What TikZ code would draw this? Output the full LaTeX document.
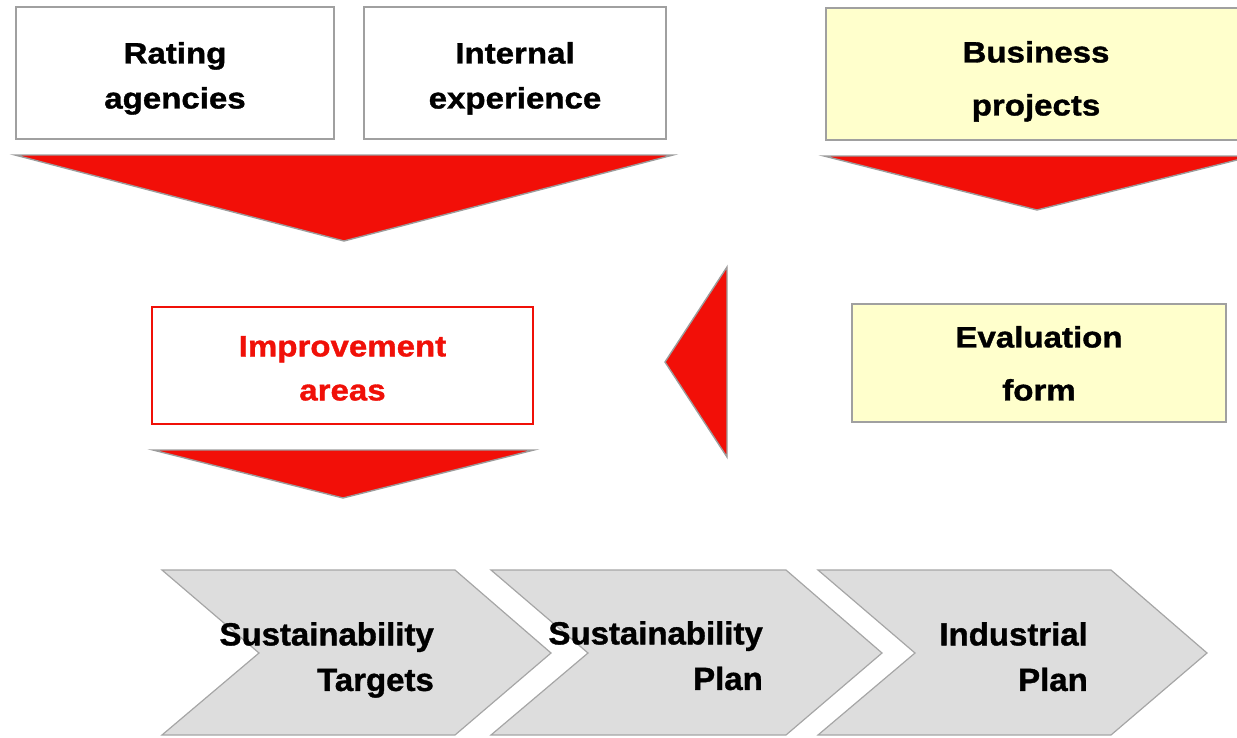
\documentclass[tikz,border=0pt]{standalone}
\usepackage{fontspec}
\setmainfont{Liberation Sans}
\newfontfamily\boxfont{Liberation Sans}[FakeStretch=1.12, BoldFeatures={FakeBold=1.2}]
\newfontfamily\chevfont{Liberation Sans}[FakeStretch=1.03, BoldFeatures={FakeBold=1.2}]
\definecolor{arrred}{HTML}{F20F08}
\definecolor{edgegrey}{HTML}{9C9C9C}
\definecolor{boxgrey}{HTML}{A0A0A0}
\definecolor{yellowfill}{HTML}{FFFFCC}
\definecolor{chevfill}{HTML}{DDDDDD}
\definecolor{chevedge}{HTML}{A6A6A6}
\definecolor{impred}{HTML}{F01008}
\begin{document}
\begin{tikzpicture}[x=1pt,y=-1pt,
  box/.style={draw=boxgrey, line width=1.3pt, rectangle, inner sep=0pt},
  boxtext/.style={inner sep=0pt, align=center, anchor=north, font=\boxfont\bfseries\fontsize{29.5}{#1}\selectfont},
  boxtext/.default=45,
  arrowshape/.style={fill=arrred, draw=edgegrey, line width=1.4pt, line join=miter},
  chev/.style={fill=chevfill, draw=chevedge, line width=1.2pt, line join=miter},
  chevtext/.style={inner sep=0pt, align=right, anchor=north east, font=\chevfont\bfseries\fontsize{32}{45.5}\selectfont}]
\useasboundingbox (0,0) rectangle (1237,737);

% top boxes
\node[box, minimum width=318pt, minimum height=132pt] (rating) at (175,73) {};
\node[boxtext] (ratingtxt) at (175,41.9) {Rating\\agencies};
\node[box, minimum width=302pt, minimum height=132pt] (internal) at (515,73) {};
\node[boxtext] (internaltxt) at (515,41.9) {Internal\\experience};
\node[box, fill=yellowfill, minimum width=420pt, minimum height=132pt] (business) at (1036,74) {};
\node[boxtext=53] (businesstxt) at (1036,40.9) {Business\\projects};

% arrows
\draw[arrowshape] (15,155) -- (673,155) -- (344,241) -- cycle;
\draw[arrowshape] (824,156) -- (1253,156) -- (1037,210) -- cycle;
\draw[arrowshape] (727,267) -- (727,457) -- (665,362) -- cycle;
\draw[arrowshape] (153,450) -- (534,450) -- (343,498) -- cycle;

% middle boxes
\node[box, draw=impred, minimum width=381pt, minimum height=117pt] (improve) at (342.5,365.5) {};
\node[boxtext=44, text=impred] (improvetxt) at (342.5,335.9) {Improvement\\areas};
\node[box, fill=yellowfill, minimum width=374pt, minimum height=118pt] (evalform) at (1039,363) {};
\node[boxtext=53] (evaltxt) at (1039,325.9) {Evaluation\\form};

% chevrons
\draw[chev] (162,570) -- (455,570) -- (551,653) -- (455,735) -- (162,735) -- (259,653) -- cycle;
\draw[chev] (491,570) -- (786,570) -- (882,653) -- (786,735) -- (491,735) -- (588,653) -- cycle;
\draw[chev] (818,570) -- (1111,570) -- (1207,653) -- (1111,735) -- (818,735) -- (915,653) -- cycle;
\node[chevtext] (targets) at (434,622) {Sustainability\\Targets};
\node[chevtext] (susplan) at (763,621) {Sustainability\\Plan};
\node[chevtext] (indplan) at (1088,622) {Industrial\\Plan};
\end{tikzpicture}
\end{document}
